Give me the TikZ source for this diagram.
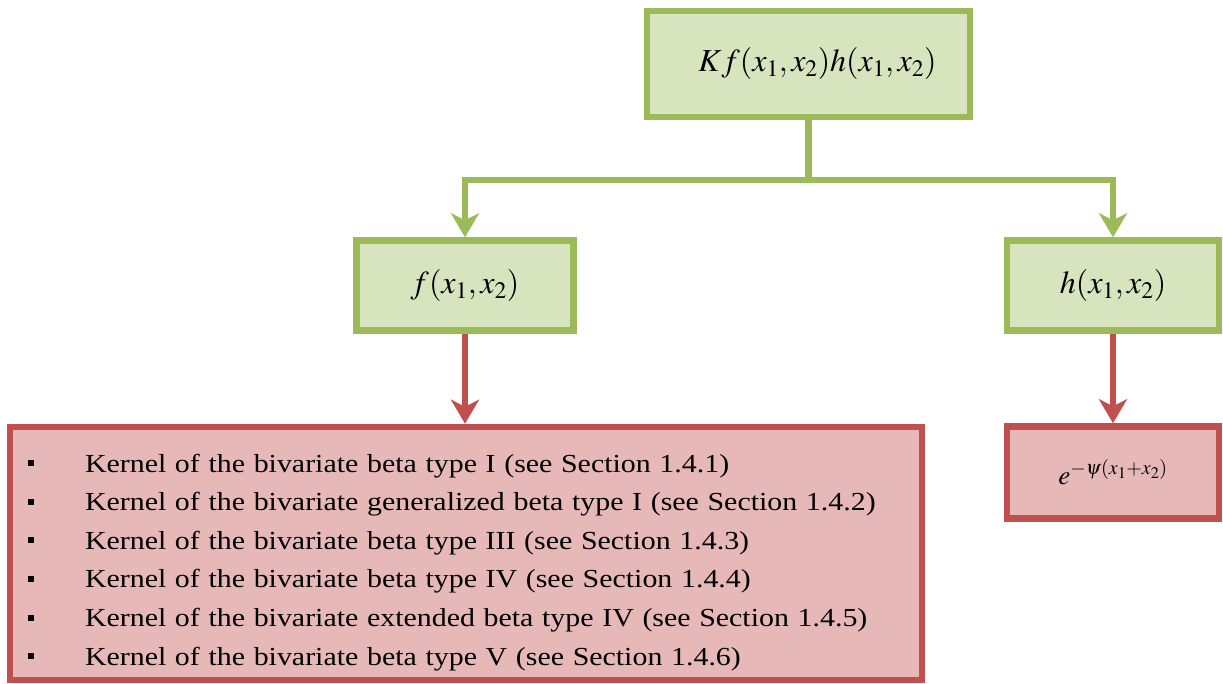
\documentclass[tikz,border=0pt]{standalone}
\usepackage{mathptmx}
\usepackage{fontspec}
\setmainfont{Liberation Serif}
\newfontfamily\listfont[FakeStretch=1.15]{Liberation Serif}
\usetikzlibrary{arrows.meta}
\definecolor{gfill}{HTML}{D7E4BD}
\definecolor{gline}{HTML}{9BBB59}
\definecolor{rfill}{HTML}{E6B9B8}
\definecolor{rline}{HTML}{C0504D}
\newcommand\bul{\makebox[57pt][l]{\rule[6pt]{6pt}{6pt}}}
\begin{document}
\begin{tikzpicture}[x=1pt,y=-1pt,
    gbox/.style={draw=gline,fill=gfill,line width=6.5pt,inner sep=0pt},
    rbox/.style={draw=rline,fill=rfill,line width=6.5pt,inner sep=0pt},
    link/.style={line width=6.5pt,-{Stealth[length=24pt,width=28pt,inset=7pt]}}]
    \useasboundingbox (0,0) rectangle (1223,684);
    \node[gbox,minimum width=323pt,minimum height=106pt,font=\fontsize{32}{34}\selectfont] (kfh) at (808.5,64) {\hspace{18pt}$Kf(x_1,x_2)h(x_1,x_2)$};
    \node[gbox,minimum width=217pt,minimum height=90pt,font=\fontsize{32}{34}\selectfont] (fx) at (465,285.5) {$f(x_1,x_2)$};
    \node[gbox,minimum width=212pt,minimum height=90pt,font=\fontsize{32}{34}\selectfont] (hx) at (1113,285.5) {$h(x_1,x_2)$};
    \node[rbox,minimum width=912pt,minimum height=253pt,text width=876pt,align=left,
        font=\listfont\fontsize{26}{38.6}\selectfont] (kern) at (466,553.5) {%
        \bul\rule{0pt}{36pt}Kernel of the bivariate beta type I (see Section 1.4.1)\\
        \bul Kernel of the bivariate generalized beta type I (see Section 1.4.2)\\
        \bul Kernel of the bivariate beta type III (see Section 1.4.3)\\
        \bul Kernel of the bivariate beta type IV (see Section 1.4.4)\\
        \bul Kernel of the bivariate extended beta type IV (see Section 1.4.5)\\
        \bul Kernel of the bivariate beta type V (see Section 1.4.6)};
    \node[rbox,minimum width=212pt,minimum height=92pt,font=\fontsize{27}{29}\selectfont] (ex) at (1113,472.5) {$e^{-\psi(x_1+x_2)}$};
    \coordinate (split) at (808.5,180);
    \draw[gline,line width=6.5pt] (kfh.south) -- (split);
    \draw[gline,link] (split) -| (fx.north);
    \draw[gline,link] (split) -| (hx.north);
    \draw[rline,link] (fx.south) -- (kern.north -| fx.south);
    \draw[rline,link] (hx.south) -- (ex.north);
\end{tikzpicture}
\end{document}
